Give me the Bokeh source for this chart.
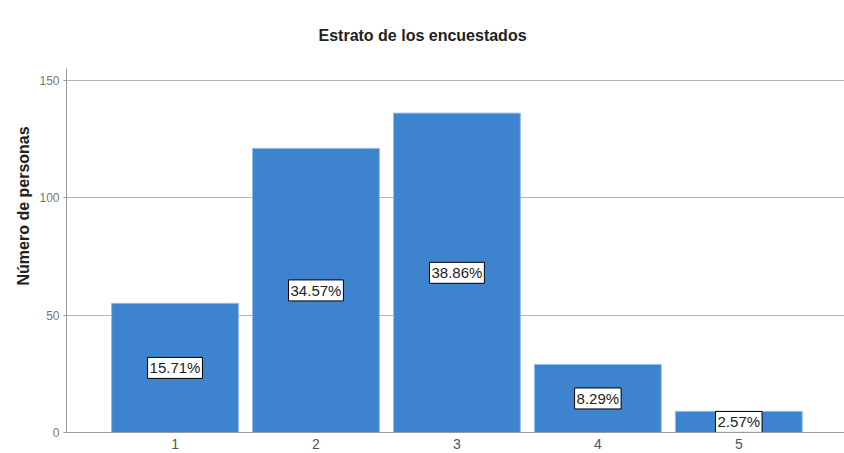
from bokeh.plotting import figure
from bokeh.models import ColumnDataSource, FixedTicker, Range1d, Title
from bokeh.core.properties import value
from bokeh.embed import file_html
from bokeh.resources import INLINE

estratos = [1, 2, 3, 4, 5]
personas = [55, 121, 136, 29, 9]
porcentajes = ["15.71%", "34.57%", "38.86%", "8.29%", "2.57%"]
y_ticks = [0, 50, 100, 150]

src = ColumnDataSource(dict(
    x=estratos,
    top=personas,
    mid=[v / 2 for v in personas],
    lbl=porcentajes,
))

p = figure(width=844, height=453, output_backend="svg", toolbar_location=None,
           x_range=Range1d(0.23, 5.75), y_range=Range1d(0, 155),
           min_border_left=66, min_border_right=0, min_border_top=67, min_border_bottom=21)

p.title.text = "Estrato de los encuestados"
p.title.align = "left"
p.title.offset = 252
p.title.standoff = 49
p.title.text_font = "Liberation Sans"
p.title.text_font_size = "16px"
p.title.text_font_style = "bold"
p.title.text_color = "#222222"

p.vbar(x="x", top="top", width=0.9, source=src, fill_color="#3d83cd",
       line_color="#8fc0ec", line_width=1)

p.text(x="x", y="mid", text="lbl", source=src, text_align="center",
       text_baseline="middle", text_font=value("Liberation Sans"),
       text_font_size="15px", text_color="#222222",
       background_fill_color="white", border_line_color="black",
       border_line_width=1, padding=2)

# y-axis title, placed like the original (shifted up from the centre)
ytitle = Title(text="Número de personas", align="left", offset=147, standoff=9,
               text_font="Liberation Sans", text_font_size="16px",
               text_font_style="bold", text_color="#222222")
p.add_layout(ytitle, "left")

p.outline_line_color = None
p.xgrid.grid_line_color = None
p.ygrid.grid_line_color = "#b5b5b5"
p.ygrid.ticker = FixedTicker(ticks=[50, 100, 150])

p.xaxis.ticker = FixedTicker(ticks=estratos)
p.xaxis.major_tick_line_color = None
p.xaxis.minor_tick_line_color = None
p.xaxis.axis_line_color = "#9a9a9a"
p.xaxis.major_label_text_font = "Liberation Sans"
p.xaxis.major_label_text_font_size = "14px"
p.xaxis.major_label_text_color = "#555555"
p.xaxis.major_label_standoff = 0

p.yaxis.ticker = FixedTicker(ticks=y_ticks)
p.yaxis.major_tick_line_color = "#9a9a9a"
p.yaxis.major_tick_out = 3
p.yaxis.major_tick_in = 0
p.yaxis.minor_tick_line_color = None
p.yaxis.axis_line_color = "#9a9a9a"
p.yaxis.major_label_text_font = "Liberation Sans"
p.yaxis.major_label_text_font_size = "12px"
p.yaxis.major_label_text_color = "#777777"
p.yaxis.major_label_standoff = 4

open("out.html", "w").write(file_html(p, INLINE))
